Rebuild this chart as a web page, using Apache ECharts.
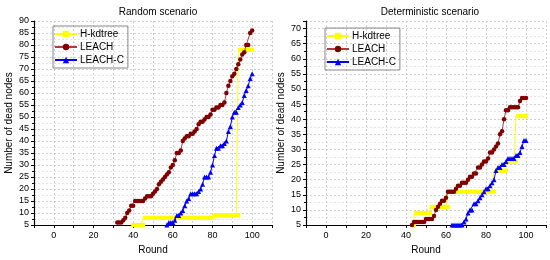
<!DOCTYPE html>
<html><head><meta charset="utf-8">
<script src="https://cdn.jsdelivr.net/npm/echarts@6/dist/echarts.min.js"></script>
<style>html,body{margin:0;padding:0;background:#fff}#c{width:550px;height:260px}</style>
</head><body><div id="c"></div>
<script>
// ---------- Data ----------
const seriesNames = ['H-kdtree', 'LEACH', 'LEACH-C'];
const panelTitles = ['Random scenario', 'Deterministic scenario'];
const xTickLabels = ['0', '20', '40', '60', '80', '100'];

// Random scenario
const hkdRoundsRandom = [40,41,42,43,44,45,46,47,48,49,50,51,52,53,54,55,56,57,58,59,60,61,62,63,64,65,66,67,68,69,70,71,72,73,74,75,76,77,78,79,80,81,82,83,84,85,86,87,88,89,90,91,92,93,94,95,96,97,98,99,100];
const hkdRandom = [5,5,5,5,5,5,8,8,8,8,8,8,8,8,8,8,8,8,8,8,8,8,8,8,8,8,8,8,8,8,8,8,8,8,8,8,8,8,8,8,8,9,9,9,9,9,9,9,9,9,9,9,9,9,78,78,78,78,78,78,78];
const leachRoundsRandom = [32,33,34,35,36,37,38,39,40,41,42,43,44,45,46,47,48,49,50,51,52,53,54,55,56,57,58,59,60,61,62,63,64,65,66,67,68,69,70,71,72,73,74,75,76,77,78,79,80,81,82,83,84,85,86,87,88,89,90,91,92,93,94,95,96,97,98,99,100];
const leachRandom = [6,6,6,7,8,10,11,13,13,15,15,15,15,15,16,17,17,17,18,19,20,22,23,24,25,26,27,29,30,32,35,35,36,40,41,42,42,43,43,44,45,47,48,48,49,50,50,51,53,53,54,54,55,55,56,60,63,65,67,68,70,72,74,76,77,80,80,85,86];
const leachCRoundsRandom = [57,58,59,60,61,62,63,64,65,66,67,68,69,70,71,72,73,74,75,76,77,78,79,80,81,82,83,84,85,86,87,88,89,90,91,92,93,94,95,96,97,98,99,100];
const leachCRandom = [5,6,6,6,7,9,9,10,11,13,15,16,18,18,18,18,19,20,22,25,25,25,27,30,34,37,37,38,38,39,40,44,46,50,52,52,54,55,56,59,61,63,66,68];

// Deterministic scenario
const hkdRoundsDet = [44,45,46,47,48,49,50,51,52,53,54,55,56,57,58,59,60,61,62,63,64,65,66,67,68,69,70,71,72,73,74,75,76,77,78,79,80,81,82,83,84,85,86,87,88,89,90,91,92,93,94,95,96,97,98,99,100];
const hkdDet = [5,9,9,9,9,9,9,9,9,11,11,11,11,11,11,11,11,11,16,16,16,16,16,16,16,16,16,16,16,16,16,16,16,16,16,16,16,16,16,16,16,23,23,23,23,23,23,26,26,26,26,26,41,41,41,41,41];
const leachRoundsDet = [43,44,45,46,47,48,49,50,51,52,53,54,55,56,57,58,59,60,61,62,63,64,65,66,67,68,69,70,71,72,73,74,75,76,77,78,79,80,81,82,83,84,85,86,87,88,89,90,91,92,93,94,95,96,97,98,99,100];
const leachDet = [5,6,6,6,6,6,6,7,7,7,7,8,10,11,12,13,13,14,16,16,16,16,17,18,18,19,19,19,20,21,21,22,22,24,24,25,26,26,27,29,29,30,31,32,35,36,40,43,43,44,44,44,44,44,46,47,47,47];
const leachCRoundsDet = [63,64,65,66,67,68,69,70,71,72,73,74,75,76,77,78,79,80,81,82,83,84,85,86,87,88,89,90,91,92,93,94,95,96,97,98,99,100];
const leachCDet = [5,5,5,5,5,5,6,7,9,10,10,12,12,13,14,15,16,17,17,18,19,20,23,24,24,25,25,26,27,27,27,27,28,28,29,31,33,33];

// ---------- Chart ----------
const pair = (xs, ys) => xs.map((x, i) => [x, ys[i]]);
const font = 'Liberation Sans, Arial, sans-serif';
const colors = {
  hkd: '#ffff00',
  leachLine: '#b53a3a', leachMark: '#800000',
  leachC: '#0000ff'
};

function xAxisFor(gridIndex) {
  return {
    type: 'value', gridIndex, min: -10, max: 110, interval: 10,
    name: 'Round', nameLocation: 'middle', nameGap: 20,
    nameTextStyle: { fontSize: 10, fontFamily: font, color: '#000' },
    axisLine: { show: true, onZero: false, lineStyle: { color: '#000', width: 1.2 } },
    axisTick: { show: true, length: 3, lineStyle: { color: '#000' } },
    axisLabel: {
      fontSize: 9, fontFamily: font, color: '#000', margin: 6,
      formatter: v => xTickLabels.includes(String(v)) ? String(v) : ''
    },
    splitLine: { show: true, lineStyle: { color: '#cfcfcf', type: [2, 2], width: 1 } }
  };
}
function yAxisFor(gridIndex, max) {
  return {
    type: 'value', gridIndex, min: 5, max, interval: 5,
    name: 'Number of dead nodes', nameLocation: 'middle', nameGap: 20,
    nameTextStyle: { fontSize: 10, fontFamily: font, color: '#000' },
    axisLine: { show: true, onZero: false, lineStyle: { color: '#000', width: 1.2 } },
    axisTick: { show: true, length: 3, lineStyle: { color: '#000' } },
    minorTick: { show: true, splitNumber: 2, length: 2, lineStyle: { color: '#000' } },
    axisLabel: {
      fontSize: 9, fontFamily: font, color: '#000', margin: 5,
      formatter: v => (v % 5 === 0) ? String(v) : ''
    },
    splitLine: { show: true, lineStyle: { color: '#cfcfcf', type: [2, 2], width: 1 } },
    minorSplitLine: { show: true, lineStyle: { color: '#e4e4e4', type: [2, 2], width: 1 } }
  };
}
function seriesFor(idx, hkdX, hkdY, lX, lY, cX, cY) {
  return [
    {
      name: seriesNames[0], type: 'line', xAxisIndex: idx, yAxisIndex: idx,
      data: pair(hkdX, hkdY), step: 'start',
      symbol: 'rect', symbolSize: 4, showSymbol: true,
      lineStyle: { color: colors.hkd, width: 1 },
      itemStyle: { color: colors.hkd },
      emphasis: { disabled: true }, z: 2
    },
    {
      name: seriesNames[1], type: 'line', xAxisIndex: idx, yAxisIndex: idx,
      data: pair(lX, lY),
      symbol: 'circle', symbolSize: 4.5, showSymbol: true,
      lineStyle: { color: colors.leachLine, width: 1 },
      itemStyle: { color: colors.leachMark },
      emphasis: { disabled: true }, z: 3
    },
    {
      name: seriesNames[2], type: 'line', xAxisIndex: idx, yAxisIndex: idx,
      data: pair(cX, cY),
      symbol: 'triangle', symbolSize: 5, showSymbol: true,
      lineStyle: { color: colors.leachC, width: 1 },
      itemStyle: { color: colors.leachC },
      emphasis: { disabled: true }, z: 4
    }
  ];
}
function legendFor(left, top) {
  return {
    orient: 'vertical', left, top, data: seriesNames,
    itemWidth: 22, itemHeight: 8, itemGap: 3,
    padding: [3, 4, 3, 1],
    borderColor: '#888', borderWidth: 1,
    textStyle: { fontSize: 10, fontFamily: font, color: '#000', padding: [0, 0, 0, -2] },
    selectedMode: false
  };
}

const chart = echarts.init(document.getElementById('c'), null, { renderer: 'canvas' });
chart.setOption({
  animation: false,
  backgroundColor: '#fff',
  title: [
    { text: panelTitles[0], left: 153, top: 2, textAlign: 'center',
      textStyle: { fontSize: 10, fontWeight: 'normal', fontFamily: font, color: '#000' } },
    { text: panelTitles[1], left: 425, top: 2, textAlign: 'center',
      textStyle: { fontSize: 10, fontWeight: 'normal', fontFamily: font, color: '#000' } }
  ],
  legend: [legendFor(53, 26), legendFor(325, 28)],
  grid: [
    { left: 34, top: 21, width: 238, height: 204, containLabel: false },
    { left: 306, top: 21, width: 240, height: 204, containLabel: false }
  ],
  xAxis: [xAxisFor(0), xAxisFor(1)],
  yAxis: [yAxisFor(0, 90), yAxisFor(1, 72.5)],
  series: [
    ...seriesFor(0, hkdRoundsRandom, hkdRandom, leachRoundsRandom, leachRandom, leachCRoundsRandom, leachCRandom),
    ...seriesFor(1, hkdRoundsDet, hkdDet, leachRoundsDet, leachDet, leachCRoundsDet, leachCDet)
  ]
});
</script>
</body></html>
